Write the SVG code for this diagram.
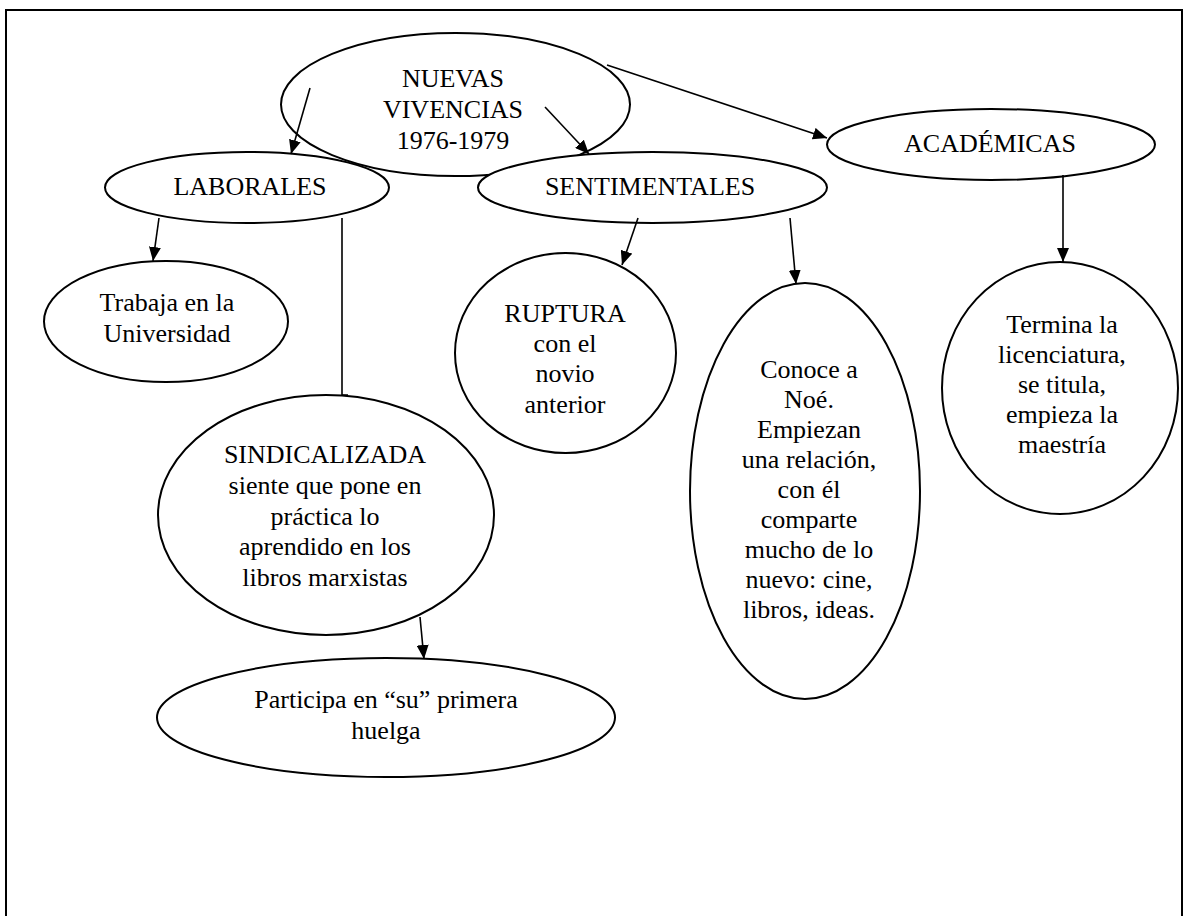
<svg xmlns="http://www.w3.org/2000/svg" width="1185" height="916" viewBox="0 0 1185 916">
<style>
.n{fill:#fff;stroke:#000;stroke-width:2}
.t{font-family:"Liberation Serif","Times New Roman",serif;font-size:26px;fill:#000;text-anchor:middle}
.c{stroke:#000;stroke-width:1.6;fill:none}
</style>
<defs>
<marker id="ah" viewBox="0 0 14 12" refX="14" refY="6" markerWidth="14" markerHeight="12" orient="auto" markerUnits="userSpaceOnUse">
<path d="M0,0 L14,6 L0,12 Z" fill="#000"/>
</marker>
</defs>
<rect x="0" y="0" width="1185" height="916" fill="#fff"/>
<rect x="6" y="10" width="1176" height="930" fill="none" stroke="#000" stroke-width="2"/>
<g id="n-nuevas"><ellipse class="n" cx="455.5" cy="104.5" rx="174.5" ry="71.5"/>
<text class="t"><tspan x="453" y="87">NUEVAS</tspan><tspan x="453" y="118">VIVENCIAS</tspan><tspan x="453" y="149">1976-1979</tspan></text></g>
<g id="n-laborales"><ellipse class="n" cx="247" cy="187.5" rx="142" ry="35.5"/>
<text class="t" x="250" y="195">LABORALES</text></g>
<g id="n-sentimentales"><ellipse class="n" cx="652.5" cy="187.5" rx="174.5" ry="35.5"/>
<text class="t" x="650" y="195">SENTIMENTALES</text></g>
<g id="n-academicas"><ellipse class="n" cx="991" cy="144.5" rx="164" ry="35.5"/>
<text class="t" x="990" y="152">ACADÉMICAS</text></g>
<g id="n-trabaja"><ellipse class="n" cx="166" cy="321.5" rx="122" ry="60.5"/>
<text class="t"><tspan x="167" y="311">Trabaja en la</tspan><tspan x="167" y="342">Universidad</tspan></text></g>
<g id="n-sindicalizada"><ellipse class="n" cx="326" cy="515" rx="168" ry="120"/>
<text class="t"><tspan x="325" y="463">SINDICALIZADA</tspan><tspan x="325" y="494">siente que pone en</tspan><tspan x="325" y="525">práctica lo</tspan><tspan x="325" y="555">aprendido en los</tspan><tspan x="325" y="586">libros marxistas</tspan></text></g>
<g id="n-participa"><ellipse class="n" cx="386" cy="717.5" rx="229" ry="59.5"/>
<text class="t"><tspan x="386" y="708">Participa en “su” primera</tspan><tspan x="386" y="739">huelga</tspan></text></g>
<g id="n-ruptura"><ellipse class="n" cx="565.5" cy="353" rx="110.5" ry="100"/>
<text class="t"><tspan x="565" y="322">RUPTURA</tspan><tspan x="565" y="352">con el</tspan><tspan x="565" y="382">novio</tspan><tspan x="565" y="413">anterior</tspan></text></g>
<g id="n-conoce"><ellipse class="n" cx="805" cy="491" rx="115" ry="208"/>
<text class="t"><tspan x="809" y="378">Conoce a</tspan><tspan x="809" y="408">Noé.</tspan><tspan x="809" y="438">Empiezan</tspan><tspan x="809" y="468">una relación,</tspan><tspan x="809" y="498">con él</tspan><tspan x="809" y="528">comparte</tspan><tspan x="809" y="558">mucho de lo</tspan><tspan x="809" y="588">nuevo: cine,</tspan><tspan x="809" y="618">libros, ideas.</tspan></text></g>
<g id="n-termina"><ellipse class="n" cx="1060" cy="388" rx="118" ry="126"/>
<text class="t"><tspan x="1062" y="333">Termina la</tspan><tspan x="1062" y="363">licenciatura,</tspan><tspan x="1062" y="393">se titula,</tspan><tspan x="1062" y="423">empieza la</tspan><tspan x="1062" y="453">maestría</tspan></text></g>
<g id="connectors">
<line class="c" x1="310" y1="88" x2="291" y2="154" marker-end="url(#ah)"/>
<line class="c" x1="545" y1="107" x2="589" y2="154" marker-end="url(#ah)"/>
<line class="c" x1="607" y1="65" x2="827" y2="138" marker-end="url(#ah)"/>
<line class="c" x1="159" y1="218" x2="153" y2="261" marker-end="url(#ah)"/>
<polyline class="c" points="342,218 342,395 348,395"/>
<line class="c" x1="638" y1="218" x2="622" y2="265" marker-end="url(#ah)"/>
<line class="c" x1="790" y1="218" x2="796" y2="284" marker-end="url(#ah)"/>
<line class="c" x1="1063" y1="175" x2="1063" y2="262" marker-end="url(#ah)"/>
<line class="c" x1="420" y1="617" x2="424" y2="659" marker-end="url(#ah)"/>
</g>
</svg>
